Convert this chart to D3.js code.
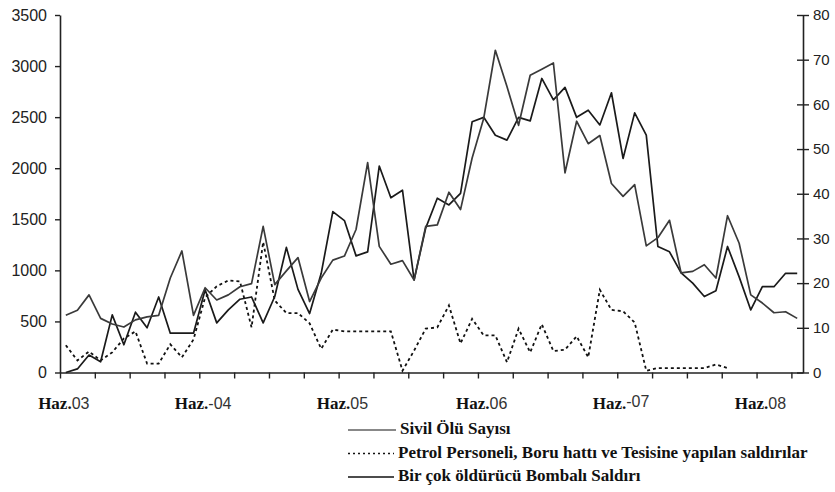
<!DOCTYPE html>
<html>
<head>
<meta charset="utf-8">
<script src="https://cdn.jsdelivr.net/npm/d3@7"></script>
<style>
  body { margin: 0; background: #fff; }
  svg { display: block; }
</style>
</head>
<body>
<script>
// Monthly categories, June 2003 .. September 2008
var months = d3.timeMonth.range(new Date(2003, 5, 1), new Date(2008, 9, 1));

// Sivil Ölü Sayısı (left axis)
var civilian = [560, 610, 760, 530, 475, 445, 515, 545, 560, 925, 1190, 560,
    830, 710, 760, 840, 870, 1430, 860, 995, 1125, 695, 925, 1100,
    1140, 1400, 2055, 1235, 1060, 1095, 905, 1430, 1445, 1765, 1595, 2100,
    2490, 3155, 2800, 2420, 2910, 2970, 3030, 1955, 2460, 2240, 2320, 1850,
    1725, 1840, 1240, 1320, 1490, 975, 990, 1055, 925, 1535, 1265, 760,
    680, 585, 595, 530];

// Petrol personeli, boru hattı ve tesislerine saldırılar (right axis)
var oilAttacks = [6.1, 2.7, 4.7, 2.7, 4.5, 7.6, 9.2, 2.0, 2.0, 6.3, 3.4, 7.4,
    16.8, 19.3, 20.6, 20.4, 10.1, 29.2, 16.1, 13.3, 13.3, 11.0, 5.3, 9.6,
    9.2, 9.2, 9.2, 9.2, 9.2, 0.4, 4.9, 9.8, 10.1, 15.0, 6.5, 12.0,
    8.3, 8.3, 2.3, 9.8, 4.5, 10.8, 4.8, 5.1, 8.1, 3.4, 18.5, 14.0,
    13.7, 11.2, 0.4, 1.0, 1.0, 1.0, 1.0, 1.0, 1.8, 1.0, null, null,
    null, null, null, null];

// Bir çok öldürücü bombalı saldırı (right axis)
var bombings = [0, 0.8, 3.9, 2.4, 12.9, 6.2, 13.5, 10.0, 16.9, 8.8, 8.8, 8.8,
    18.5, 11.1, 14.0, 16.4, 16.9, 11.1, 17.0, 28.0, 18.6, 13.2, 22.2, 36.0,
    34.0, 26.1, 27.0, 46.2, 39.1, 40.8, 20.7, 32.3, 39.0, 37.5, 40.1, 56.1,
    57.1, 53.1, 52.0, 57.1, 56.3, 65.8, 61.0, 63.8, 57.1, 58.7, 55.4, 62.6,
    47.9, 58.1, 53.1, 28.2, 27.0, 22.3, 20.0, 17.0, 18.3, 28.2, 21.4, 14.0,
    19.2, 19.2, 22.2, 22.2];

var leftTicks = [0, 500, 1000, 1500, 2000, 2500, 3000, 3500];
var rightTicks = [0, 10, 20, 30, 40, 50, 60, 70, 80];
var yearLabels = ["03", "-04", "05", "06", "-07", "08"];
var legendLabels = [
    "Sivil Ölü Sayısı",
    "Petrol Personeli, Boru hattı ve Tesisine yapılan saldırılar",
    "Bir çok öldürücü Bombalı Saldırı"
];

drawChart();

function drawChart() {

    var width = 835,
        height = 492;

    var svg = d3.select("body")
        .append("svg")
        .attr("width", width)
        .attr("height", height);

    // Plot frame
    var plotLeft = 60, plotRight = 803, plotTop = 15, plotBottom = 372.5;

    // Category scale: each month is a band, points sit at band centres
    var x = d3.scaleBand()
        .domain(months)
        .range([plotLeft, plotRight]);

    var xIdx = d3.scaleLinear()
        .domain([0, months.length])
        .range([plotLeft, plotRight]);

    var yLeft = d3.scaleLinear().domain([0, 3500]).range([plotBottom, plotTop]);
    var yRight = d3.scaleLinear().domain([0, 80]).range([plotBottom, plotTop]);

    function cx(i) { return x(months[i]) + x.bandwidth() / 2; }

    // Axes
    var axisColor = "#222";

    var gx = svg.append("g")
        .attr("transform", "translate(0," + plotBottom + ")")
        .call(d3.axisBottom(xIdx)
            .tickValues(d3.range(0, months.length, 3))
            .tickFormat("")
            .tickSize(6)
            .tickSizeOuter(0));

    var gl = svg.append("g")
        .attr("transform", "translate(" + plotLeft + ",0)")
        .call(d3.axisLeft(yLeft)
            .tickValues(leftTicks)
            .tickFormat(d3.format("d"))
            .tickSize(5)
            .tickSizeOuter(0)
            .tickPadding(8));

    var gr = svg.append("g")
        .attr("transform", "translate(" + plotRight + ",0)")
        .call(d3.axisRight(yRight)
            .tickValues(rightTicks)
            .tickSize(5)
            .tickSizeOuter(0)
            .tickPadding(5));

    // right axis ticks cross the axis line
    gr.selectAll(".tick line").attr("x1", -6).attr("x2", 6);

    [gx, gl, gr].forEach(function(g) {
        g.select(".domain").attr("stroke", axisColor).attr("stroke-width", 1.6);
        g.selectAll(".tick line").attr("stroke", axisColor).attr("stroke-width", 1.4);
    });

    gl.selectAll(".tick text")
        .attr("font-family", "'Liberation Sans', Arial, sans-serif")
        .attr("font-size", 16)
        .attr("fill", "#222");

    gr.selectAll(".tick text")
        .attr("font-family", "'Liberation Sans', Arial, sans-serif")
        .attr("font-size", 15)
        .attr("fill", "#222");

    // X labels: "Haz." in bold serif, year in sans
    var xl = svg.append("g").selectAll("text")
        .data(yearLabels)
        .enter()
        .append("text")
        .attr("x", function(d, k) { return cx(k * 12) - 2; })
        .attr("y", 409)
        .attr("text-anchor", "middle")
        .attr("fill", "#111");

    xl.append("tspan")
        .attr("font-family", "'Liberation Serif', 'Times New Roman', serif")
        .attr("font-weight", "bold")
        .attr("font-size", 17)
        .text("Haz.");

    xl.append("tspan")
        .attr("font-family", "'Liberation Sans', Arial, sans-serif")
        .attr("font-size", 16)
        .attr("fill", "#333")
        .attr("dy", function(d) { return d === "-07" ? -2 : 0; })
        .text(function(d) { return d; });

    // Lines
    var lineLeft = d3.line()
        .x(function(d, i) { return cx(i); })
        .y(function(d) { return yLeft(d); });

    var lineRight = d3.line()
        .defined(function(d) { return d !== null; })
        .x(function(d, i) { return cx(i); })
        .y(function(d) { return yRight(d); });

    svg.append("path")
        .datum(oilAttacks)
        .attr("fill", "none")
        .attr("stroke", "#111")
        .attr("stroke-width", 1.8)
        .attr("stroke-dasharray", "3,3")
        .attr("d", lineRight);

    svg.append("path")
        .datum(bombings)
        .attr("fill", "none")
        .attr("stroke", "#1a1a1a")
        .attr("stroke-width", 1.7)
        .attr("stroke-linejoin", "round")
        .attr("d", lineRight);

    svg.append("path")
        .datum(civilian)
        .attr("fill", "none")
        .attr("stroke", "#3a3a3a")
        .attr("stroke-width", 1.7)
        .attr("stroke-linejoin", "round")
        .attr("d", lineLeft);

    // Legend
    var legendStyles = [
        { stroke: "#888", dash: null, width: 2 },
        { stroke: "#111", dash: "2,3", width: 1.5 },
        { stroke: "#111", dash: null, width: 1.5 }
    ];

    var legend = svg.append("g").selectAll("g")
        .data(legendLabels)
        .enter()
        .append("g")
        .attr("transform", function(d, i) { return "translate(348," + (430 + i * 23.5) + ")"; });

    legend.append("line")
        .attr("x1", 0)
        .attr("x2", function(d, i) { return i === 0 ? 48 : 46; })
        .attr("y1", 0)
        .attr("y2", 0)
        .attr("stroke", function(d, i) { return legendStyles[i].stroke; })
        .attr("stroke-width", function(d, i) { return legendStyles[i].width; })
        .attr("stroke-dasharray", function(d, i) { return legendStyles[i].dash; });

    legend.append("text")
        .attr("x", function(d, i) { return i === 0 ? 52 : 50; })
        .attr("y", 4)
        .attr("font-family", "'Liberation Serif', 'Times New Roman', serif")
        .attr("font-weight", "bold")
        .attr("font-size", 17)
        .attr("fill", "#111")
        .text(function(d) { return d; });
}
</script>
</body>
</html>
